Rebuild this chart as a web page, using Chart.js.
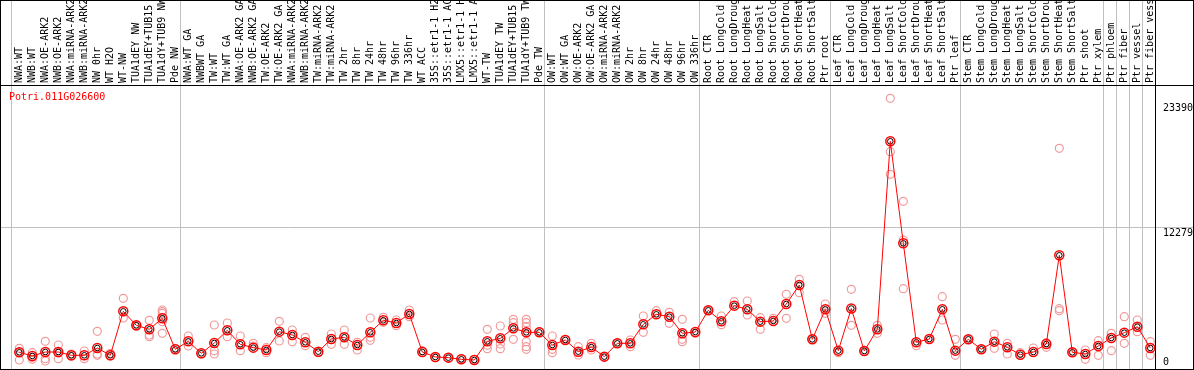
<!DOCTYPE html>
<html>
<head>
<meta charset="utf-8">
<script src="https://cdn.jsdelivr.net/npm/chart.js@4"></script>
<style>
  html, body { margin:0; padding:0; background:#fff; }
  #wrap { position:relative; width:1192px; height:368px; border:1px solid #000; }
  #title { position:absolute; left:8px; top:90px; font:10px "DejaVu Sans Mono", monospace; line-height:12px; color:#f00; }
</style>
</head>
<body>
<div id="wrap">
  <canvas id="chart" width="1192" height="368"></canvas>
  <div id="title">Potri.011G026600</div>
</div>
<script>
// sample labels (one column each)
const categories = [
  'NWA:WT','NWB:WT','NWA:OE-ARK2','NWB:OE-ARK2','NWA:miRNA-ARK2','NWB:miRNA-ARK2','NW 0hr','WT H2O','WT-NW','TUA1dEY NW','TUA1dEY+TUB15','TUA1dY+TUB9 NW','Pde NW',
  'NWA:WT GA','NWBWT GA','TW:WT','TW:WT GA','NWA:OE-ARK2 GA','NWB:OE-ARK2 GA','TW:OE-ARK2','TW:OE-ARK2 GA','NWA:miRNA-ARK2','NWB:miRNA-ARK2','TW:miRNA-ARK2','TW:miRNA-ARK2',
  'TW 2hr','TW 8hr','TW 24hr','TW 48hr','TW 96hr','TW 336hr','WT ACC','35S::etr1-1 H2O','35S::etr1-1 ACC','LMX5::etr1-1 H2O','LMX5::etr1-1 ACC','WT-TW','TUA1dEY TW','TUA1dEY+TUB15','TUA1dY+TUB9 TW','Pde TW',
  'OW:WT','OW:WT GA','OW:OE-ARK2','OW:OE-ARK2 GA','OW:miRNA-ARK2','OW:miRNA-ARK2','OW 2hr','OW 8hr','OW 24hr','OW 48hr','OW 96hr','OW 336hr',
  'Root CTR','Root LongCold','Root LongDrought','Root LongHeat','Root LongSalt','Root ShortCold','Root ShortDrought','Root ShortHeat','Root ShortSalt','Ptr root',
  'Leaf CTR','Leaf LongCold','Leaf LongDrought','Leaf LongHeat','Leaf LongSalt','Leaf ShortCold','Leaf ShortDrought','Leaf ShortHeat','Leaf ShortSalt','Ptr leaf',
  'Stem CTR','Stem LongCold','Stem LongDrought','Stem LongHeat','Stem LongSalt','Stem ShortCold','Stem ShortDrought','Stem ShortHeat','Stem ShortSalt','Ptr shoot','Ptr xylem',
  'Ptr phloem','Ptr fiber','Ptr vessel','Ptr fiber vessel'
];

// first column of each group (gray separator before it)
const groupStarts = [0, 13, 41, 53, 63, 73, 84, 85, 86, 87];

// mean expression per sample
const means = [
  1215, 889, 1244, 1244, 948, 948, 1600, 948, 4859, 3615, 3259, 4237, 1481,
  2193, 1126, 2044, 3170, 1926, 1630, 1422, 3052, 2756, 2104, 1274, 2400, 2548, 1867, 2993, 4059, 3822, 4622, 1244, 800, 741, 593, 533, 2193, 2459, 3348, 2993, 2993,
  1867, 2311, 1274, 1680, 830, 2015, 2015, 3704, 4593, 4385, 2904, 3022,
  4948, 3970, 5363, 5037, 3941, 4000, 5511, 7200, 2370, 5037,
  1363, 5110, 1334, 3259, 19970, 10904, 2104, 2400, 5037, 1363,
  2370, 1481, 2163, 1659, 1007, 1244, 1956, 9837, 1215, 1067, 1778,
  2489, 2963, 3496, 1600
];

// individual replicates per sample
const replicates = [
  [1570, 533, 1218], [1185, 593, 770], [2193, 652, 444], [1867, 652, 1156], [1067, 859], [1333, 652], [3081, 1067, 948], [1126, 889],
  [6015, 4267], [3615, 3526], [4059, 2756, 2607], [4978, 4830, 4681, 3941, 2904], [1570],
  [2667, 1778], [1067], [3644, 1363, 1067], [3822, 2607], [2667, 1363], [2015, 1778], [1630, 1185], [3970, 2222], [3200, 2163],
  [2548, 1807], [1185], [2844, 1926], [3200, 1926], [2104, 1422], [4267, 2281, 2548], [4326, 3881], [4089, 3585], [4978, 4385],
  [1363], [741], [741], [652], [593], [3259, 1837, 1541], [3555, 1956, 1541], [4148, 3852, 2370],
  [4148, 3852, 3496, 2163, 1719, 1481], [3052],
  [2667, 1481, 1185], [2370], [1719, 978], [2015, 1422], [830], [2015], [2311, 1719], [4445, 2993], [4919], [4770, 3793],
  [4148, 2370, 2163], [2904],
  [4948], [4445, 3674], [5719], [5778, 4533], [4296, 3259], [4237], [6370, 4237], [7704, 6519], [2370], [5511, 4681],
  [1185], [6815, 3615], [1304], [3615, 2904], [23793, 19052, 17037], [14637, 11200, 6874], [1807], [2400], [6163, 4089], [2370, 948],
  [2370], [1481], [2844, 1570], [2015, 1067], [1185], [1600], [2074, 1659], [19348, 5096, 4919], [1215], [1422, 593], [2252, 948],
  [2904, 1363], [4385, 2015], [4089, 3052], [2163, 948]
];

const yTickValues = [0, 12279, 23390];
const yTickLabels = ['0', '12279', '23390'];

const FONT = { family: 'DejaVu Sans Mono', size: 10 };
const GRAY = 'rgb(192,192,192)';
const Y_MIN = -267, Y_MAX = 24977;
const X_MIN = -0.5 - 10 / 13, X_MAX = 87.5;
const PT_SHIFT = 1.8 / 13; // points sit a bit right of column centre

function sepColor(ctx){
  if(ctx.index === undefined || ctx.index >= categories.length) return '#000';
  return groupStarts.includes(ctx.index) ? GRAY : 'rgba(0,0,0,0)';
}

// no automatic label padding: the box sizes are fixed by hand
function noPad(s){ s.paddingLeft = s.paddingRight = s.paddingTop = s.paddingBottom = 0; }

const meanPts = means.map((v, i) => ({ x: i, y: v }));
const repPts = replicates.flatMap((vals, i) => vals.map(v => ({ x: i, y: v })));

new Chart(document.getElementById('chart'), {
  type: 'line',
  data: {
    datasets: [
      { data: meanPts, borderColor: '#f00', borderWidth: 1, pointRadius: 4.5, pointBorderColor: '#f00',
        pointBorderWidth: 1.5, pointBackgroundColor: 'rgba(0,0,0,0)', tension: 0 },
      { data: meanPts, showLine: false, pointRadius: 2.8, pointBorderColor: '#000', pointBorderWidth: 1,
        pointBackgroundColor: 'rgba(0,0,0,0)' },
      { data: repPts, showLine: false, pointRadius: 4, pointBorderColor: 'rgb(240,155,155)', pointBorderWidth: 1.2,
        pointBackgroundColor: 'rgba(0,0,0,0)' }
    ]
  },
  options: {
    responsive: false,
    devicePixelRatio: 1,
    animation: false,
    layout: { padding: 0, autoPadding: false },
    plugins: { legend: { display: false }, tooltip: { enabled: false }, title: { display: false } },
    scales: {
      x: { type: 'linear', display: false, min: X_MIN - PT_SHIFT, max: X_MAX - PT_SHIFT },
      xTop: {
        type: 'linear', position: 'top', min: X_MIN, max: X_MAX,
        afterBuildTicks: s => { s.ticks = categories.map((c, i) => ({ value: i })); },
        afterFit: s => { s.height = 84; noPad(s); },
        grid: { offset: true, drawTicks: true, tickLength: 84, color: sepColor, tickColor: sepColor, lineWidth: 1 },
        border: { display: true, color: '#000', width: 1 },
        ticks: {
          autoSkip: false, minRotation: 90, maxRotation: 90, padding: -82, labelOffset: 13.5,
          color: '#000', font: FONT,
          callback: v => categories[v]
        }
      },
      y: {
        type: 'linear', position: 'right', min: Y_MIN, max: Y_MAX, weight: 0,
        afterBuildTicks: s => { s.ticks = yTickValues.map(v => ({ value: v })).concat([{ value: Y_MAX }]); },
        afterFit: s => { s.width = 0; noPad(s); },
        grid: {
          drawTicks: true, tickLength: 38, lineWidth: 1,
          color: ctx => ctx.tick && ctx.tick.value === yTickValues[1] ? GRAY : (ctx.tick && ctx.tick.value === Y_MAX ? '#000' : 'rgba(0,0,0,0)')
        },
        border: { display: true, color: '#000', width: 1 },
        ticks: { display: false }
      },
      yl: {
        type: 'linear', position: 'right', min: Y_MIN, max: Y_MAX, weight: 1,
        // labels sit just under their line, the 0 label just above it
        afterBuildTicks: s => { s.ticks = yTickValues.map((v, i) => ({ value: v + (i === 0 ? 356 : -530) })); },
        afterFit: s => { s.width = 38; noPad(s); },
        grid: { display: false, drawTicks: false },
        border: { display: false },
        ticks: { padding: 8, color: '#000', font: FONT, callback: (v, i) => yTickLabels[i] }
      }
    }
  }
});
</script>
</body>
</html>
